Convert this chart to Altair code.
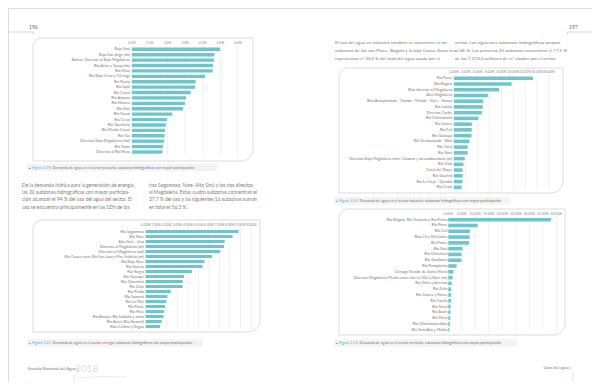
import altair as alt
import pandas as pd

# ---------------- data ----------------
pecuario_cats = [
    "Bajo Sinú", "Bajo San Jorge (mi)", "Bolívar, Directos al Bajo Magdalena",
    "Río Ariari y Guayuriba", "Río Meta", "Río Bajo Cesar y Ciénaga", "Río Pauto",
    "Río Upía", "Río Cravo", "Río Ariporo", "Río Humea", "Río Sinú", "Río Yucao",
    "Río Cesar", "Río Guachiría", "Río Medio Cauca", "Río Tua",
    "Directos Bajo Magdalena (md)", "Río Tomo", "Directos al Río Meta",
]
pecuario_vals = [4.98, 4.66, 4.65, 4.58, 4.57, 4.13, 3.60, 3.57, 3.32, 3.06,
                 3.00, 2.89, 2.28, 1.98, 1.91, 1.87, 1.85, 1.81, 1.75, 1.72]
pecuario_ticks = [0, 1, 2, 3, 4, 5, 6]

energia_cats = [
    "Río Sogamoso", "Río Nare", "Alto Sinú - Urrá", "Directos al Magdalena (mi)",
    "Directos al Magdalena (md)", "Río Cauca entre Río San Juan y Pto. Valdivia (mi)",
    "Río Bajo Nare", "Río Guavio", "Río Negro", "Río Guatapé", "Río Chinchiná",
    "Río Zulia", "Río Prado", "Río Samaná", "Río La Miel", "Río Porce", "Río Páez",
    "Río Amoyá, Río Saldaña y otros", "Río Ariari (Río Guamal)", "Ríos Calima y Dagua",
]
energia_vals = [8.83, 8.25, 7.50, 7.45, 7.08, 6.29, 5.59, 5.40, 4.38, 3.65,
                3.52, 3.50, 2.38, 2.06, 1.94, 1.84, 1.75, 1.68, 1.52, 1.37]
energia_ticks = [0, 1, 2, 3, 4, 5, 6, 7, 8, 9, 10]

industria_cats = [
    "Río Porce", "Río Bogotá", "Ríos directos al Magdalena", "Alto Magdalena",
    "Ríos Arroyohondo - Yumbo - Mulaló - Vijes - Yotoco", "Río Lebrija",
    "Directos Caribe", "Río Chicamocha", "Río Suárez", "Río Cali", "Río Guatapé",
    "Río Desbaratado - Bolo", "Río Tuluá", "Río Nare",
    "Directos Bajo Magdalena entre Calamar y desembocadura (mi)", "Río Zulia",
    "Canal del Dique", "Río Guarinó", "Río La Vieja - Quindío", "Río Cesar",
]
industria_vals = [13.3, 9.7, 7.6, 5.7, 4.9, 4.85, 4.7, 4.1, 3.0, 3.0,
                  2.95, 2.6, 2.3, 2.3, 1.8, 1.6, 1.45, 1.45, 1.42, 1.3]
industria_ticks = [0, 2, 4, 6, 8, 10, 12, 14, 16]

servicios_cats = [
    "Río Bogotá, Río Tunjuelo y Río Fucha", "Río Porce", "Río Cali",
    "Ríos Lili y Meléndez", "Río Pance", "Río Sinú", "Río Chinchiná",
    "Río Guatiquía", "Río Pamplonita", "Ciénaga Grande de Santa Marta",
    "Directos Magdalena Medio entre ríos La Miel y Nare (mi)", "Río Otún y directos",
    "Río Zulia", "Río Suárez y Fonce", "Río Coello", "Río Tuluá", "Río Ariari",
    "Río Meta", "Río Chicamocha Alto", "Río Sinú Alto y Medio",
]
servicios_vals = [38.0, 10.9, 8.0, 7.9, 7.7, 5.3, 4.9, 4.85, 3.1, 1.9,
                  1.6, 1.25, 1.05, 1.0, 1.0, 0.9, 0.8, 0.75, 0.6, 0.4]
servicios_ticks = [0, 5, 10, 15, 20, 25, 30, 35, 40]

caption_nums = ["Figura 3.19.", "Figura 3.20.", "Figura 3.21.", "Figura 3.22."]
caption_texts = [
    "Demanda de agua en el sector pecuario, subzonas hidrográficas con mayor participación.",
    "Demanda de agua en el sector industria, subzonas hidrográficas con mayor participación.",
    "Demanda de agua en el sector energía, subzonas hidrográficas con mayor participación.",
    "Demanda de agua en el sector servicios, subzonas hidrográficas con mayor participación.",
]

left_col1 = [
    "De la demanda hídrica para la generación de energía,",
    "las 20 subzonas hidrográficas con mayor participa-",
    "ción alcanzan el 94 % del uso del agua del sector. El",
    "uso se encuentra principalmente en las SZH de los",
]
left_col2 = [
    "ríos Sogamoso, Nare, Alto Sinú y los ríos directos",
    "al Magdalena. Estas cuatro subzonas concentran el",
    "37,7 % del uso y las siguientes 16 subzonas suman",
    "en total el 56,3 %.",
]
right_col1 = [
    "El uso del agua en industria también se concentra en las",
    "subzonas de los ríos Porce, Bogotá y la baja Cauca. Estas tres",
    "representan el 30,4 % del total del agua usada por el",
]
right_col2 = [
    "sector. Las siguientes subzonas hidrográficas ocupan",
    "el 46 %. Las primeras 20 subzonas concentran el 77,5 %",
    "de los 1 074,4 millones de m³ usados por el sector.",
]

page_left, page_right = "196", "197"
footer_left, footer_year, footer_right = "Estudio Nacional del Agua |", "2018", "Usos del agua |"

# ---------------- style / layout ----------------
OFF = 8
def P(v):
    return v - OFF

TEAL = "#6fc6ca"
CAP_TEAL = "#4fb6c0"
GRID = "#e6e6e6"
TXT = "#7c7c7c"
FONT = "Lato"
one = pd.DataFrame({"k": [0]})


def txt(text, x, y, size, color=TXT, align="left", baseline="middle", weight="normal", lh=None):
    kw = dict(text=text, fontSize=size, color=color, align=align, baseline=baseline,
              font=FONT, fontWeight=weight)
    if lh is not None:
        kw["lineHeight"] = lh
    return alt.Chart(one).mark_text(**kw).encode(x=alt.value(P(x)), y=alt.value(P(y)))


def rule(x1, y1, x2, y2, color="#bdbdbd", w=0.6):
    return alt.Chart(one).mark_rule(color=color, strokeWidth=w).encode(
        x=alt.value(P(x1)), y=alt.value(P(y1)), x2=alt.value(P(x2)), y2=alt.value(P(y2)))


def rect(x1, y1, x2, y2, fill, stroke=None, w=0, tl=0, br=0):
    kw = dict(fill=fill, strokeWidth=w, cornerRadiusTopLeft=tl, cornerRadiusBottomRight=br)
    if stroke:
        kw["stroke"] = stroke
    return alt.Chart(one).mark_rect(**kw).encode(
        x=alt.value(P(x1)), x2=alt.value(P(x2)), y=alt.value(P(y1)), y2=alt.value(P(y2)))


def panel(cats, vals, ticks, fmt, x0, x1, y_first, y_last, label_right, axis_y,
          grid_top, grid_bottom, pad=0.38):
    n = len(cats)
    step = (y_last - y_first) / (n - 1)
    yscale = alt.Scale(domain=cats, range=[P(y_first - step / 2), P(y_last + step / 2)],
                       paddingInner=pad, paddingOuter=pad / 2)
    xscale = alt.Scale(domain=[ticks[0], ticks[-1]], range=[P(x0), P(x1)], nice=False, zero=True)
    df = pd.DataFrame({"cat": cats, "v": vals})
    tdf = pd.DataFrame({"t": ticks})
    grid = alt.Chart(tdf).mark_rule(color=GRID, strokeWidth=0.6).encode(
        x=alt.X("t:Q", scale=xscale, axis=None),
        y=alt.value(P(grid_top)), y2=alt.value(P(grid_bottom)))
    tick_txt = alt.Chart(tdf).transform_calculate(
        lab=f"format(datum.t, '{fmt}') + '%'"
    ).mark_text(fontSize=3.5, color="#8a8a8a", font=FONT, baseline="middle").encode(
        x=alt.X("t:Q", scale=xscale, axis=None), y=alt.value(P(axis_y)), text="lab:N")
    bars = alt.Chart(df).mark_bar(color=TEAL).encode(
        x=alt.X("v:Q", scale=xscale, axis=None),
        y=alt.Y("cat:N", sort=cats, scale=yscale, axis=None))
    labels = alt.Chart(df).mark_text(align="right", baseline="middle", fontSize=3.8,
                                     color="#777777", font=FONT).encode(
        x=alt.value(P(label_right)),
        y=alt.Y("cat:N", sort=cats, scale=yscale, axis=None), text="cat:N")
    return alt.layer(grid, tick_txt, bars, labels)


def caption(i, x1, x2, yc):
    return [
        rect(x1, yc - 3.8, x2, yc + 3.8, "#f3f3f3"),
        txt("▲", x1 + 1.5, yc, 2.6, color="#666666"),
        txt(caption_nums[i], x1 + 5, yc, 3.7, color=CAP_TEAL),
        txt(caption_texts[i], x1 + 25.5, yc, 3.7, color="#777777"),
    ]


layers = []
# boxes
layers.append(rect(33, 38, 253, 161, "white", "#d2d2d2", 0.8, 9, 12))
layers.append(rect(33, 220, 260, 332, "white", "#d2d2d2", 0.8, 9, 12))
layers.append(rect(339, 68, 563, 193, "white", "#d2d2d2", 0.8, 9, 12))
layers.append(rect(339, 209, 565, 335, "white", "#d2d2d2", 0.8, 9, 12))

# bar panels
layers.append(panel(pecuario_cats, pecuario_vals, pecuario_ticks, ".1f",
                    132, 238, 49.3, 152, 130, 43, 45.5, 155))
layers.append(panel(energia_cats, energia_vals, energia_ticks, ".2f",
                    145.7, 251, 231.5, 326.5, 144, 224.5, 227, 329))
layers.append(panel(industria_cats, industria_vals, industria_ticks, ".2f",
                    454, 549, 78.2, 187.3, 452.5, 72.3, 75, 190))
layers.append(panel(servicios_cats, servicios_vals, servicios_ticks, ".2f",
                    448.3, 556.3, 219.7, 329.7, 447.3, 213.7, 216.5, 332))

# captions
layers += caption(0, 27, 217, 167.5)
layers += caption(1, 334, 510, 200.6)
layers += caption(2, 27, 203, 343)
layers += caption(3, 334, 517, 343)

# paragraphs
layers.append(txt(left_col1, 22, 186.8, 4.9, baseline="alphabetic", lh=7.3))
layers.append(txt(left_col2, 149, 186.8, 4.9, baseline="alphabetic", lh=7.3))
layers.append(txt(right_col1, 335, 44.3, 4.6, baseline="alphabetic", lh=8))
layers.append(txt(right_col2, 455, 44.3, 4.6, baseline="alphabetic", lh=8))

# page numbers and header lines
layers.append(txt(page_left, 29, 27, 5, color="#666666"))
layers.append(rule(8, 32, 34, 32))
layers.append(rule(33.5, 32, 33.5, 34.5))
layers.append(txt(page_right, 569, 27, 5, color="#666666"))
layers.append(rule(567, 32, 592, 32))
layers.append(rule(567.5, 32, 567.5, 34.5))

# footers
layers.append(txt(footer_left, 28, 369, 4.2, color="#777777"))
layers.append(txt(footer_year, 75, 368.5, 10, color="#c8c8c8", weight=300))
layers.append(rule(74, 375, 74, 382, "#cccccc", 0.6))
layers.append(rule(76, 378, 101, 376.5, "#dddddd", 0.6))
layers.append(rule(101, 376.5, 126, 376.8, "#dddddd", 0.6))
layers.append(txt(footer_right, 571, 368, 4.2, color="#777777", align="right"))
layers.append(rule(573, 372, 573, 382, "#cccccc", 0.6))

chart = alt.layer(*layers).resolve_scale(
    x="independent", y="independent"
).properties(
    width=584, height=374, padding=0, autosize=alt.AutoSizeParams(type="none")
).configure_view(stroke=None).configure(background="white")

chart.save("out.html", embed_options={"renderer": "svg", "actions": False})
